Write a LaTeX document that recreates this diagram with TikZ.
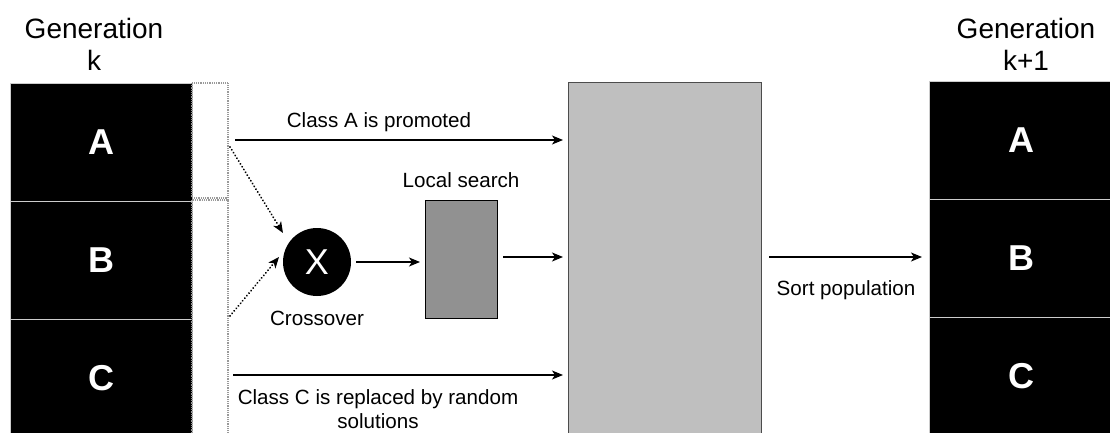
\documentclass[tikz,border=0pt]{standalone}
\usepackage{fontspec}
\setmainfont{Liberation Sans}
\usetikzlibrary{arrows.meta}
\begin{document}
\begin{tikzpicture}[x=1pt,y=-1pt,
  blk/.style={fill=black, draw=white!80!black, line width=1pt, minimum width=182pt, minimum height=118pt, inner sep=0pt, text=white, font=\fontsize{36}{40}\selectfont\bfseries, anchor=north west},
  lbl/.style={font=\fontsize{20.6}{24}\selectfont, inner sep=0pt, align=center},
  gen/.style={font=\fontsize{28}{32}\selectfont, inner sep=0pt, align=center},
  dotbox/.style={draw=black!40, line width=1.2pt, dash pattern=on 1pt off 0.8pt},
  arr/.style={line width=1.6pt, -{Stealth[length=11pt,width=9pt,inset=3pt]}},
  darr/.style={line width=2pt, line cap=round, dash pattern=on 0.1pt off 3.2pt, -{Stealth[length=11pt,width=9pt,inset=3pt]}},
]
\clip (0,0) rectangle (1110,433);
\fill[white] (0,0) rectangle (1110,433);

% titles
\node[gen] (genk) at (94,44) {Generation\\k};
\node[gen] (genk1) at (1026,44) {Generation\\k+1};

% left population
\node[blk] (A) at (10,83) {A};
\node[blk] (B) at (10,201) {B};
\node[blk] (C) at (10,319) {C};

% dotted boxes
\draw[dotbox] (192,83) rectangle (228,198);
\draw[dotbox] (192,200) rectangle (228,445);

% right population
\node[blk, minimum width=195pt] (A2) at (929,81) {\hspace*{-12pt}A};
\node[blk, minimum width=195pt] (B2) at (929,199) {\hspace*{-12pt}B};
\node[blk, minimum width=195pt] (C2) at (929,317) {\hspace*{-12pt}C};

% big sort box
\node[draw=black!70, line width=1pt, fill=black!25, minimum width=193pt, minimum height=370pt, anchor=north west, inner sep=0pt] (big) at (568,82) {};

% crossover
\node[circle, fill=black, minimum size=68pt, inner sep=0pt, text=white, font=\fontsize{36}{36}\selectfont] (X) at (317,262) {X};
\node[lbl] (xlbl) at (317,318) {Crossover};

% local search
\node[draw=black, line width=1pt, fill=black!43, minimum width=72pt, minimum height=118pt, anchor=north west, inner sep=0pt] (ls) at (425,200) {};
\node[lbl] (lslbl) at (461,180) {Local search};

% coordinates
\coordinate (aS) at (235,140);
\coordinate (aE) at (563,140);
\coordinate (cS) at (233,375);
\coordinate (cE) at (563,375);
\coordinate (d1) at (230,147);
\coordinate (d1e) at (283,233);
\coordinate (d2) at (230,316);
\coordinate (d2e) at (279,257);
\coordinate (lsE) at (563,257);
\coordinate (sS) at (769,257);
\coordinate (sE) at (922,257);

% arrows
\draw[arr] (aS) -- (aE);
\node[lbl] (alab) at (379,122) {Class A is promoted};
\draw[arr] (cS) -- (cE);
\node[lbl] (clab) at (378,409) {Class C is replaced by random\\solutions};
\draw[darr] (d1) -- (d1e);
\draw[darr] (d2) -- (d2e);
\draw[arr] (X.east) ++(5,0) coordinate (xo) -- (420,262) coordinate (lsi);
\draw[arr] (ls.east |- lsE) ++(5,0) -- (lsE);
\draw[arr] (sS) -- (sE);
\node[lbl] (slab) at (846,290) {Sort population};
\end{tikzpicture}
\end{document}
